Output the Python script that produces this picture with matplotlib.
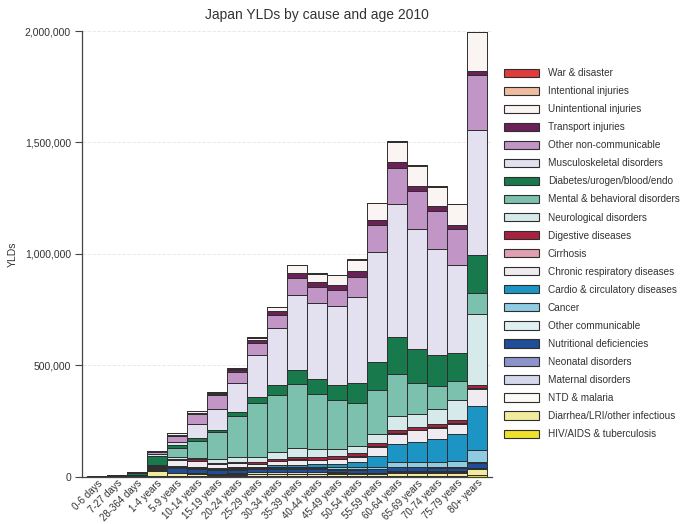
import numpy as np
import matplotlib
matplotlib.use('Agg')
import matplotlib.pyplot as plt
from matplotlib.patches import Patch

plt.rcParams['font.family'] = ['Liberation Sans', 'DejaVu Sans']

ages = ['0-6 days', '7-27 days', '28-364 days', '1-4 years', '5-9 years',
        '10-14 years', '15-19 years', '20-24 years', '25-29 years', '30-34 years',
        '35-39 years', '40-44 years', '45-49 years', '50-54 years', '55-59 years',
        '60-64 years', '65-69 years', '70-74 years', '75-79 years', '80+ years']

# YLDs per cause, one value per age group (bottom of the stack first)
hiv_tb = [0, 0, 0, 900, 2300, 2300, 2300, 2300, 3200, 3200, 3600, 3600, 3600, 3600, 4100, 4500, 4500, 4500, 4500, 9000]
diarrhea = [200, 600, 1400, 22500, 11300, 6800, 4500, 4500, 5900, 5900, 6800, 6800, 6800, 6800, 7200, 13500, 13500, 13500, 13500, 23400]
ntd = [0, 0, 100, 1400, 1400, 2300, 2300, 2300, 2300, 2300, 2300, 2300, 2300, 1800, 1800, 2300, 2300, 2300, 2300, 2300]
maternal = [0, 0, 0, 0, 0, 1400, 2300, 4500, 6800, 6800, 6800, 5400, 4500, 2300, 1400, 900, 900, 900, 900, 900]
neonatal = [2300, 2800, 1400, 2300, 2300, 2300, 1400, 1400, 1400, 1400, 1400, 1400, 1400, 1400, 1400, 1400, 1400, 1400, 1400, 1800]
nutritional = [0, 100, 500, 4500, 22500, 20300, 15800, 15800, 13500, 13500, 13500, 13500, 12600, 13500, 15800, 18000, 18000, 15800, 15800, 22500]
other_comm = [200, 300, 500, 2300, 2300, 2300, 2300, 2300, 2300, 3200, 3200, 3200, 3200, 3600, 2300, 3600, 3600, 3600, 3600, 4500]
cancer = [50, 100, 200, 2300, 2300, 2300, 2300, 3200, 4500, 6800, 6800, 8100, 9000, 9000, 10400, 20300, 20300, 22500, 27000, 52700]
cardio = [100, 100, 200, 1400, 2300, 2300, 3200, 4500, 4500, 6800, 9000, 9900, 11700, 23400, 49600, 79700, 90100, 105400, 123400, 198200]
chronic_resp = [0, 0, 500, 6800, 27000, 29300, 20300, 18000, 13500, 19400, 22500, 19800, 22500, 23900, 40500, 48200, 52700, 49600, 45100, 79700]
cirrhosis = [0, 0, 0, 0, 0, 0, 500, 500, 500, 900, 900, 1400, 2300, 2300, 3200, 3200, 2700, 3200, 3200, 2700]
digestive = [100, 100, 200, 1400, 4500, 6800, 4500, 6800, 6800, 9000, 9000, 10400, 11300, 12600, 14900, 14900, 12200, 14900, 14900, 12200]
neuro = [100, 200, 500, 2300, 9000, 4500, 15800, 20300, 22500, 31500, 40500, 36000, 33800, 33300, 37400, 59900, 60400, 67600, 90100, 319900]
mental = [0, 0, 500, 3200, 42800, 78800, 121600, 186100, 240600, 255400, 289700, 250000, 218000, 191900, 200000, 189200, 137900, 100500, 83800, 93300]
diabetes = [500, 1200, 11300, 42800, 13500, 11300, 11300, 18000, 29700, 45100, 60400, 64900, 67600, 90100, 123000, 165300, 150500, 139700, 123400, 172500]
musculo = [50, 100, 500, 6800, 10400, 63100, 94600, 127900, 187900, 256800, 339200, 342400, 352700, 386100, 494600, 600500, 540600, 476200, 397800, 560000]
other_ncd = [900, 1200, 1400, 9000, 30200, 43700, 59900, 49600, 51800, 59000, 76100, 73400, 75200, 90100, 120300, 160800, 169400, 169400, 160800, 246400]
transport = [0, 0, 100, 900, 4500, 6800, 4500, 9000, 13500, 18000, 20300, 20300, 19400, 24800, 25700, 25200, 22500, 22500, 19400, 19400]
unintentional = [100, 200, 500, 2300, 5900, 6800, 6800, 6800, 12200, 15800, 36000, 37800, 45100, 52700, 72100, 91000, 89600, 86500, 91000, 172100]
intentional = [0, 0, 0, 0, 500, 900, 1400, 1400, 1400, 1800, 2300, 2300, 2300, 2700, 2700, 3200, 3200, 3200, 3200, 3200]
war = [0, 0, 0, 500, 500, 500, 500, 500, 500, 500, 500, 500, 500, 500, 500, 500, 500, 500, 500, 500]

causes = [
    ('HIV/AIDS & tuberculosis', hiv_tb, '#efe22d'),
    ('Diarrhea/LRI/other infectious', diarrhea, '#f1ec9d'),
    ('NTD & malaria', ntd, '#fcfaf5'),
    ('Maternal disorders', maternal, '#d5d7ed'),
    ('Neonatal disorders', neonatal, '#8d93c8'),
    ('Nutritional deficiencies', nutritional, '#1f4d98'),
    ('Other communicable', other_comm, '#dff0f2'),
    ('Cancer', cancer, '#8fcbe2'),
    ('Cardio & circulatory diseases', cardio, '#1d95c4'),
    ('Chronic respiratory diseases', chronic_resp, '#efebf0'),
    ('Cirrhosis', cirrhosis, '#dfa1b2'),
    ('Digestive diseases', digestive, '#a6233f'),
    ('Neurological disorders', neuro, '#d7eaeb'),
    ('Mental & behavioral disorders', mental, '#7cc0ae'),
    ('Diabetes/urogen/blood/endo', diabetes, '#187a4c'),
    ('Musculoskeletal disorders', musculo, '#e3e1ef'),
    ('Other non-communicable', other_ncd, '#c195c5'),
    ('Transport injuries', transport, '#6b2158'),
    ('Unintentional injuries', unintentional, '#faf4f2'),
    ('Intentional injuries', intentional, '#efbc9f'),
    ('War & disaster', war, '#e03c3c'),
]

fig = plt.figure(figsize=(6.91, 5.24), dpi=100)
ax = fig.add_axes([0.1187, 0.0906, 0.5929, 0.8502])

x = np.arange(len(ages))
bottom = np.zeros(len(ages))
edge = '#2e2e2e'
for name, vals, col in causes:
    vals = np.array(vals, dtype=float)
    ax.bar(x, vals, bottom=bottom, width=1.0, color=col, edgecolor=edge,
           linewidth=0.7, zorder=2)
    bottom += vals

ax.set_xlim(-0.75, 19.73)
ax.set_ylim(0, 2000000)
ax.set_yticks([0, 500000, 1000000, 1500000, 2000000])
ax.set_yticklabels(['0', '500,000', '1,000,000', '1,500,000', '2,000,000'])
ax.yaxis.grid(True, color='#e4e4e4', linestyle=(0, (4, 2)), linewidth=0.6, zorder=0)
ax.set_axisbelow(True)

ax.set_xticks(x)
ax.set_xticklabels(ages, rotation=45, ha='right', rotation_mode='anchor')
ax.tick_params(axis='x', length=0, pad=1, labelsize=7.0, labelcolor='#333333')
ax.tick_params(axis='y', length=5, width=0.8, color='#444444', labelsize=7.5,
               labelcolor='#333333', pad=3)

for s in ['top', 'right']:
    ax.spines[s].set_visible(False)
for s in ['left', 'bottom']:
    ax.spines[s].set_color('#444444')
    ax.spines[s].set_linewidth(0.9)

ax.set_ylabel('YLDs', fontsize=7.5, color='#333333', labelpad=5)

fig.text(0.459, 0.972, 'Japan YLDs by cause and age 2010', ha='center', va='center',
         fontsize=10, color='#333333')

handles = [Patch(facecolor=col, edgecolor=edge, linewidth=0.8, label=name)
           for name, vals, col in causes[::-1]]
fig.legend(handles=handles, loc='upper left', bbox_to_anchor=(0.729, 0.870),
           frameon=False, fontsize=7.2, handlelength=3.5, handleheight=0.9,
           handletextpad=0.9, labelspacing=0.805, borderpad=0, borderaxespad=0,
           labelcolor='#333333')

fig.savefig('out.png', dpi=100)
